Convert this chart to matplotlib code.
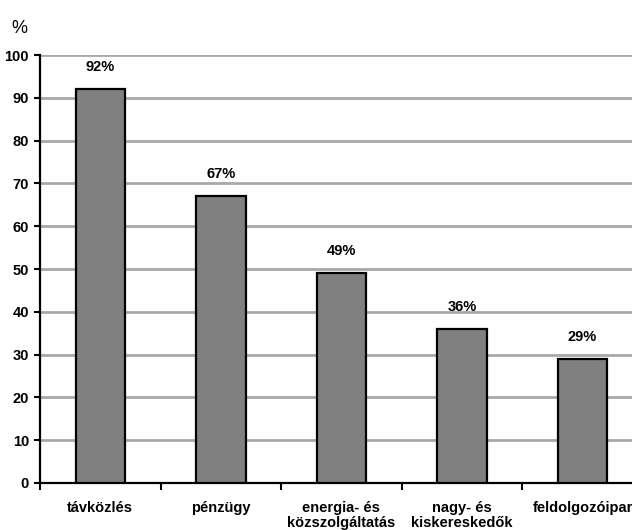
import matplotlib
matplotlib.use("Agg")
import matplotlib.pyplot as plt
from matplotlib import font_manager as fm
import numpy as np

categories = ["távközlés", "pénzügy", "energia- és\nközszolgáltatás", "nagy- és\nkiskereskedők", "feldolgozóipar"]
values = [92, 67, 49, 36, 29]
value_labels = ["92%", "67%", "49%", "36%", "29%"]
yticks = [0, 10, 20, 30, 40, 50, 60, 70, 80, 90, 100]

names = {f.name for f in fm.fontManager.ttflist}
fam = "Liberation Sans Narrow" if "Liberation Sans Narrow" in names else "Liberation Sans"
plt.rcParams['font.family'] = [fam, 'DejaVu Sans']

fig = plt.figure(figsize=(6.32, 5.30), dpi=100)
ax = fig.add_axes([0.0633, 0.0887, 0.9537, 0.8073])

x = np.arange(len(categories))
ax.bar(x, values, width=0.41, color="#808080", edgecolor="black", linewidth=1.6, zorder=3)
for xi, v, lab in zip(x, values, value_labels):
    ax.annotate(lab, (xi, v), xytext=(0, 11), textcoords="offset points",
                ha="center", va="bottom", fontsize=10.5, fontweight="bold")

ax.set_xlim(-0.5, len(categories) - 0.5)
ax.set_ylim(0, 100)
ax.set_yticks(yticks)
ax.set_yticklabels([str(t) for t in yticks], fontsize=10.5, fontweight="bold")
ax.set_xticks(x)
ax.set_xticklabels(categories, fontsize=10.5, fontweight="bold", linespacing=1.05)
ax.tick_params(axis="x", length=0, pad=13)
ax.set_xticks(np.arange(len(categories) + 1) - 0.5, minor=True)
ax.tick_params(axis="x", which="minor", length=5, width=1.5, direction="out")
ax.tick_params(axis="y", length=4, width=1.5, direction="out", pad=4)

ax.yaxis.grid(True, color="#a8a8a8", linewidth=2.0, zorder=0)
ax.set_axisbelow(True)
for s in ["top", "right"]:
    ax.spines[s].set_visible(False)
ax.spines["left"].set_linewidth(1.6)
ax.spines["bottom"].set_linewidth(1.6)

fig.text(0.018, 0.947, "%", fontsize=13, ha="left", va="center", family="Liberation Sans")

fig.savefig("out.png", dpi=100)
